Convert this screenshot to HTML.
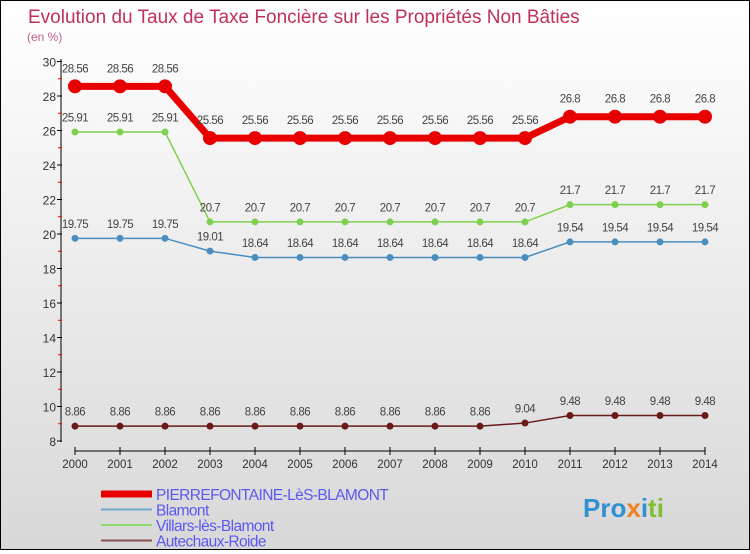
<!DOCTYPE html>
<html><head><meta charset="utf-8"><style>
body{margin:0}
#c{width:748px;height:548px;border:1px solid #000;background:linear-gradient(#ffffff,#d8d8d8);position:relative;font-family:"Liberation Sans",sans-serif}
</style></head><body>
<div id="c">
<svg id="s" width="748" height="548"></svg>
</div>
<script>
const years=[2000,2001,2002,2003,2004,2005,2006,2007,2008,2009,2010,2011,2012,2013,2014];
const pierre=[28.56,28.56,28.56,25.56,25.56,25.56,25.56,25.56,25.56,25.56,25.56,26.8,26.8,26.8,26.8];
const blamont=[19.75,19.75,19.75,19.01,18.64,18.64,18.64,18.64,18.64,18.64,18.64,19.54,19.54,19.54,19.54];
const villars=[25.91,25.91,25.91,20.7,20.7,20.7,20.7,20.7,20.7,20.7,20.7,21.7,21.7,21.7,21.7];
const autech=[8.86,8.86,8.86,8.86,8.86,8.86,8.86,8.86,8.86,8.86,9.04,9.48,9.48,9.48,9.48];
const pLabels=["28.56","28.56","28.56","25.56","25.56","25.56","25.56","25.56","25.56","25.56","25.56","26.8","26.8","26.8","26.8"];
const bLabels=["19.75","19.75","19.75","19.01","18.64","18.64","18.64","18.64","18.64","18.64","18.64","19.54","19.54","19.54","19.54"];
const vLabels=["25.91","25.91","25.91","20.7","20.7","20.7","20.7","20.7","20.7","20.7","20.7","21.7","21.7","21.7","21.7"];
const aLabels=["8.86","8.86","8.86","8.86","8.86","8.86","8.86","8.86","8.86","8.86","9.04","9.48","9.48","9.48","9.48"];
const yTicks=[8,10,12,14,16,18,20,22,24,26,28,30];
const NS="http://www.w3.org/2000/svg";
const svg=document.getElementById('s');
const X=i=>74+i*45, Y=v=>440-(v-8)*17.25;
function mk(t,a,p){const e=document.createElementNS(NS,t);for(const k in a)e.setAttribute(k,a[k]);(p||svg).appendChild(e);return e;}
let t=mk('text',{x:27,y:22,fill:'#c0305a','font-size':19});t.textContent="Evolution du Taux de Taxe Foncière sur les Propriétés Non Bâties";


t=mk('text',{x:26,y:40,fill:'#c0608a','font-size':12});t.textContent="(en %)";


mk('line',{x1:60,y1:58,x2:60,y2:441,stroke:'#000'});
mk('line',{x1:74,y1:450,x2:704,y2:450,stroke:'#000'});
yTicks.forEach(v=>{mk('line',{x1:56,y1:Y(v),x2:61,y2:Y(v),stroke:'#000'});
 if(v<30)mk('line',{x1:57,y1:Y(v+1),x2:61,y2:Y(v+1),stroke:'#e00'});
 const l=mk('text',{x:55,y:Y(v)+5,'text-anchor':'end','font-size':12,fill:'#333'});l.textContent=v;
 
 });
years.forEach((y,i)=>{mk('line',{x1:X(i),y1:446,x2:X(i),y2:454,stroke:'#000'});
 const l=mk('text',{x:X(i),y:467,'text-anchor':'middle','font-size':11.5,fill:'#333'});l.textContent=y;
 
 });
function series(vals,labs,col,w,r,name){
 const g=mk('g',{});
 
 
 mk('polyline',{points:vals.map((v,i)=>X(i)+','+Y(v)).join(' '),fill:'none',stroke:col,'stroke-width':w},g);
 vals.forEach((v,i)=>{const c=mk('circle',{cx:X(i),cy:Y(v),r:r,fill:col},g);
  
  
  const l=mk('text',{x:X(i),y:Y(v)-r-7,'text-anchor':'middle','font-size':11.5,fill:'#444','letter-spacing':'-0.5'},g);l.textContent=labs[i];});
}
series(autech,aLabels,'#6b1a1a',1.5,3.5,'series-autechaux');
series(blamont,bLabels,'#4a8ec0',1.5,3.5,'series-blamont');
series(villars,vLabels,'#80d050',1.5,3.5,'series-villars');
series(pierre,pLabels,'#e80000',7,7,'series-pierrefontaine');
const leg=[['PIERREFONTAINE-LèS-BLAMONT','#e80000',7],['Blamont','#6fa8d0',2],['Villars-lès-Blamont','#90d870',2],['Autechaux-Roide','#8a5050',2]];
leg.forEach((d,i)=>{const g=mk('g',{});
 
 
 const y=493+i*15.5;mk('line',{x1:100,y1:y,x2:151,y2:y,stroke:d[1],'stroke-width':d[2]},g);
 const l=mk('text',{x:155,y:y+6,'font-size':15.5,fill:'#5a5af0','letter-spacing':'-0.6'},g);l.textContent=d[0];});
t=mk('text',{x:582,y:516,'font-size':26,'font-weight':'bold',fill:'#f0a020'});
t.innerHTML='<tspan fill="#3090d0">Pro</tspan><tspan fill="#f08020">x</tspan><tspan fill="#3090d0">i</tspan><tspan fill="#80c030">ti</tspan>';


</script>
</body></html>
